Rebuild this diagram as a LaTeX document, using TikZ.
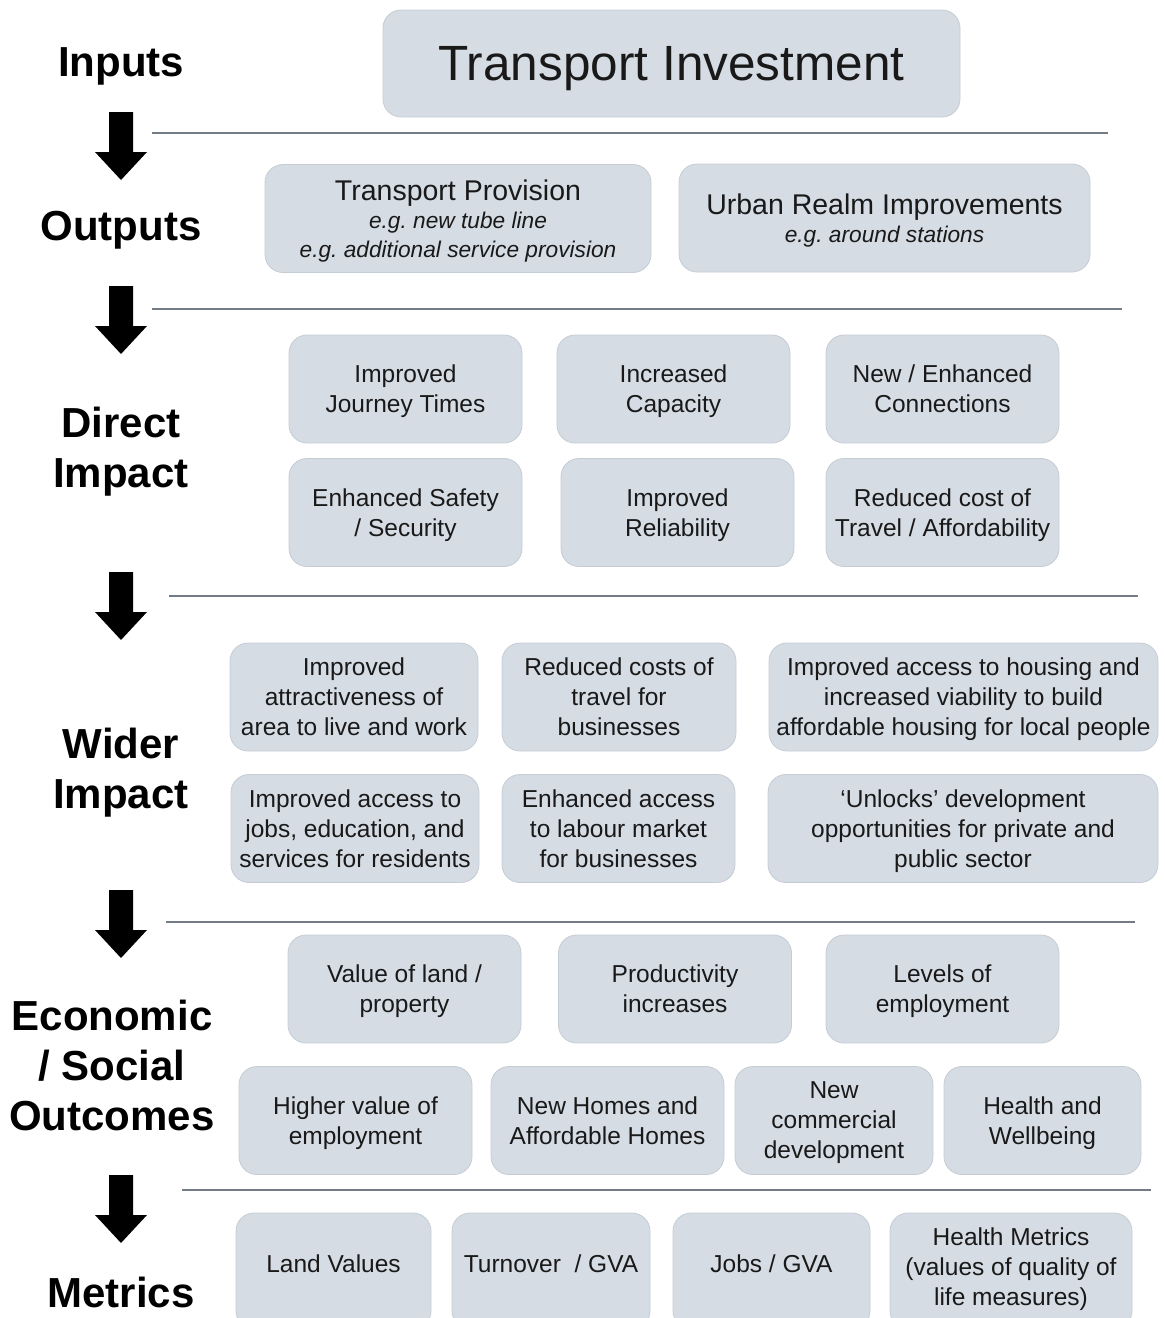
\documentclass[tikz,border=0pt]{standalone}
\usepackage{fontspec}
\setmainfont{Liberation Sans}
\usepackage{tikz}
\frenchspacing

\definecolor{boxfill}{HTML}{D6DCE4}
\definecolor{boxline}{HTML}{C6CCD4}
\definecolor{sepgrey}{HTML}{737B85}

\tikzset{
  box/.style={draw=boxline, line width=0.8pt, fill=boxfill, rounded corners=18pt,
    align=center, inner sep=0pt, text depth=0pt, text=black!90, font=\fontsize{24.5}{30}\selectfont},
  stdbox/.style={box, minimum width=233pt, minimum height=108pt},
  egbox/.style={box, minimum height=108pt, font=\itshape\fontsize{22.7}{28.5}\selectfont},
  metricbox/.style={box, minimum height=116pt, text depth=14pt},
  stage/.style={align=center, text depth=0pt, font=\bfseries\fontsize{42}{50}\selectfont},
  sepline/.style={draw=sepgrey, line width=1.2pt},
}

\begin{document}
\begin{tikzpicture}[x=1pt, y=-1pt]
        \clip (0,0) rectangle (1165,1318);

        % Stage labels
        \node[stage] (inputs) at (121,62) {Inputs};
        \node[stage] (outputs) at (121,226) {Outputs};
        \node[stage] (direct) at (121,447) {Direct\\Impact};
        \node[stage] (wider) at (121,768) {Wider\\Impact};
        \node[stage] (outcomes) at (112,1065) {Economic\\/ Social\\Outcomes};
        \node[stage] (metrics) at (121,1292) {Metrics};

        % Block arrows
        \foreach \y in {112,286,572,890,1175}
            \fill (109,\y) -- (133,\y) -- (133,\y+40) -- (147,\y+40) -- (121,\y+68)
                -- (95,\y+40) -- (109,\y+40) -- cycle;

        % Separators
        \draw[sepline] (152,133) -- (1108,133);
        \draw[sepline] (152,309) -- (1122,309);
        \draw[sepline] (169,596) -- (1138,596);
        \draw[sepline] (166,922) -- (1135,922);
        \draw[sepline] (182,1190) -- (1151,1190);

        % Inputs
        \node[box, minimum width=577pt, minimum height=107pt, font=\fontsize{49.5}{56}\selectfont] (invest) at (671.5,63.5) {Transport Investment};

        % Outputs
        \node[egbox, minimum width=386pt] (prov) at (458,218.5) {{\upshape\fontsize{28.5}{31}\selectfont Transport Provision}\\e.g. new tube line\\e.g. additional service provision};
        \node[egbox, minimum width=411pt] (urban) at (884.5,218) {{\upshape\fontsize{28.5}{31}\selectfont Urban Realm Improvements}\\e.g. around stations};

        % Direct impact
        \node[stdbox] (journey) at (405.5,389) {Improved\\Journey Times};
        \node[stdbox] (capacity) at (673.5,389) {Increased\\Capacity};
        \node[stdbox] (connect) at (942.5,389) {New / Enhanced\\Connections};
        \node[stdbox] (safety) at (405.5,512.5) {Enhanced Safety\\/ Security};
        \node[stdbox] (reliab) at (677.5,512.5) {Improved\\Reliability};
        \node[stdbox] (afford) at (942.5,512.5) {Reduced cost of\\Travel / Affordability};

        % Wider impact
        \node[stdbox, minimum width=248pt] (attract) at (354,697) {Improved\\attractiveness of\\area to live and work};
        \node[stdbox, minimum width=234pt] (bizcost) at (619,697) {Reduced costs of\\travel for\\businesses};
        \node[stdbox, minimum width=389pt] (housing) at (963.5,697) {Improved access to housing and\\increased viability to build\\affordable housing for local people};
        \node[stdbox, minimum width=248pt] (jobs) at (355,828.5) {Improved access to\\jobs, education, and\\services for residents};
        \node[stdbox] (labour) at (618.5,828.5) {Enhanced access\\to labour market\\for businesses};
        \node[stdbox, minimum width=390pt] (unlock) at (963,828.5) {‘Unlocks’ development\\opportunities for private and\\public sector};

        % Economic / social outcomes
        \node[stdbox] (land) at (404.5,989) {Value of land /\\property};
        \node[stdbox] (product) at (675,989) {Productivity\\increases};
        \node[stdbox] (employ) at (942.5,989) {Levels of\\employment};
        \node[stdbox] (highval) at (355.5,1120.5) {Higher value of\\employment};
        \node[stdbox] (homes) at (607.5,1120.5) {New Homes and\\Affordable Homes};
        \node[stdbox, minimum width=198pt] (commerc) at (834,1120.5) {New\\commercial\\development};
        \node[stdbox, minimum width=197pt] (health) at (1042.5,1120.5) {Health and\\Wellbeing};

        % Metrics
        \node[metricbox, minimum width=195pt] (landval) at (333.5,1271) {Land Values};
        \node[metricbox, minimum width=198pt] (gva) at (551,1271) {Turnover\ \ / GVA};
        \node[metricbox, minimum width=197pt] (jobgva) at (771.5,1271) {Jobs / GVA};
        \node[metricbox, minimum width=242pt, text depth=9pt] (healthm) at (1011,1271) {Health Metrics\\(values of quality of\\life measures)};
    \end{tikzpicture}
\end{document}
